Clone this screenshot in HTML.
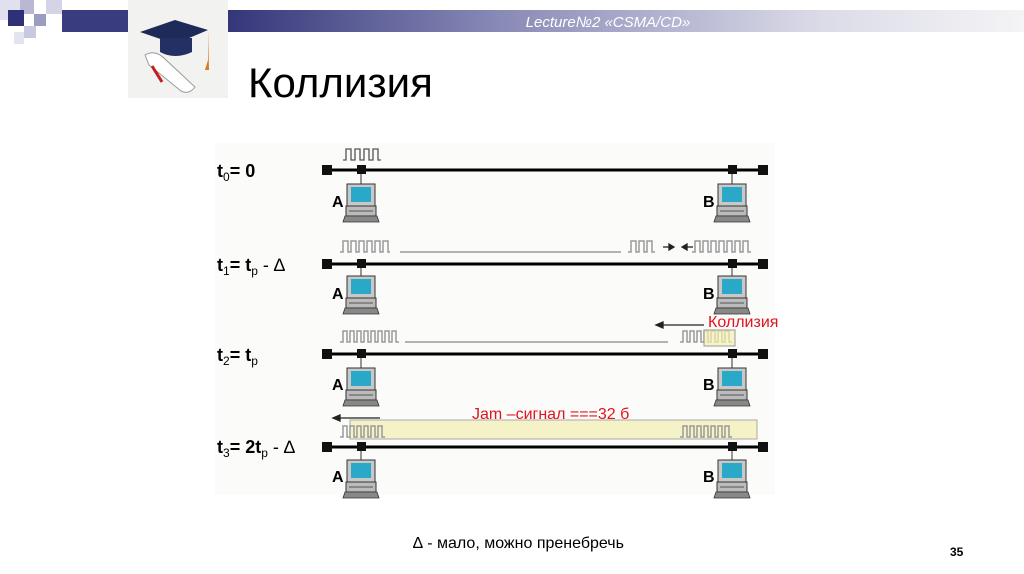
<!DOCTYPE html>
<html><head><meta charset="utf-8"><style>
html,body{margin:0;padding:0;background:#fff;width:1024px;height:574px;overflow:hidden;font-family:"Liberation Sans",sans-serif}
</style></head><body>
<svg width="1024" height="574" viewBox="0 0 1024 574" xmlns="http://www.w3.org/2000/svg" font-family="Liberation Sans, sans-serif">
<defs>
<linearGradient id="hb" x1="0" x2="1" y1="0" y2="0">
<stop offset="0" stop-color="#34367a"/><stop offset="0.35" stop-color="#8a8cb8"/><stop offset="0.75" stop-color="#dcdce8"/><stop offset="1" stop-color="#f4f4f6"/></linearGradient>
<g id="pc">
<rect x="-14" y="0" width="28" height="22" fill="#c8c8c8" stroke="#333" stroke-width="1"/>
<rect x="-10" y="3" width="20" height="15" fill="#2aa8c8"/>
<rect x="-15" y="22" width="30" height="10" fill="#bbb" stroke="#333" stroke-width="1"/>
<line x1="-12" y1="27" x2="12" y2="27" stroke="#555"/>
<path d="M-16 32 h32 l2 6 h-36 z" fill="#888" stroke="#333" stroke-width="0.8"/>
</g>
</defs>
<rect x="215" y="143" width="560" height="352" fill="#fbfbfa"/>
<!-- header decoration -->
<rect x="0" y="0" width="20" height="20" fill="#e0e0ee"/>
<rect x="20" y="0" width="14" height="14" fill="#b8b8d4"/>
<rect x="8" y="10" width="16" height="16" fill="#2e3078"/>
<rect x="34" y="14" width="12" height="12" fill="#9a9cc4"/>
<rect x="24" y="26" width="12" height="12" fill="#c8c8e0"/>
<rect x="46" y="0" width="16" height="14" fill="#d4d4e6"/>
<rect x="14" y="32" width="10" height="12" fill="#e4e4f0"/>
<rect x="62" y="10" width="66" height="22" fill="#3a3c80"/>
<rect x="228" y="10" width="796" height="22" fill="url(#hb)"/>
<text x="608" y="27" font-size="15" font-style="italic" fill="#fff" text-anchor="middle">Lecture№2 «CSMA/CD»</text>
<!-- clipart -->
<rect x="128" y="0" width="100" height="98" fill="#f2f2f0"/>
<path d="M140 32 L175 20 L208 30 L175 44 Z" fill="#1e2a5a"/>
<path d="M160 38 v14 q15 8 32 0 v-14" fill="#233064"/>
<path d="M208 30 v30 l-3 10 l4 0 z" fill="#d87a20"/>
<path d="M145 55 q10 -6 20 4 l30 28 q-6 8 -14 4 l-32 -26 z" fill="#fff" stroke="#999"/>
<path d="M152 66 l10 16" stroke="#c02020" stroke-width="3"/>
<text x="248" y="97" font-size="42" fill="#000">Коллизия</text>
<!-- diagram -->
<g fill="none" stroke="#000">
<g stroke-width="3">
<line x1="328" y1="170" x2="762" y2="170"/>
<line x1="328" y1="264" x2="762" y2="264"/>
<line x1="328" y1="354" x2="762" y2="354"/>
</g>
</g>
<rect x="350" y="420" width="407" height="19" fill="#f6f2c8" stroke="#aaa"/>
<line x1="328" y1="447" x2="762" y2="447" stroke="#000" stroke-width="3"/>
<g fill="#111">
<rect x="322" y="165" width="10" height="10"/><rect x="758" y="165" width="10" height="10"/>
<rect x="357" y="165" width="9" height="9"/><rect x="728" y="165" width="9" height="9"/>
<rect x="322" y="259" width="10" height="10"/><rect x="758" y="259" width="10" height="10"/>
<rect x="357" y="259" width="9" height="9"/><rect x="728" y="259" width="9" height="9"/>
<rect x="322" y="349" width="10" height="10"/><rect x="758" y="349" width="10" height="10"/>
<rect x="357" y="349" width="9" height="9"/><rect x="728" y="349" width="9" height="9"/>
<rect x="322" y="442" width="10" height="10"/><rect x="758" y="442" width="10" height="10"/>
<rect x="357" y="442" width="9" height="9"/><rect x="728" y="442" width="9" height="9"/>
</g>
<g stroke="#333">
<line x1="361" y1="174" x2="361" y2="184"/><line x1="732" y1="174" x2="732" y2="184"/>
<line x1="361" y1="268" x2="361" y2="276"/><line x1="732" y1="268" x2="732" y2="276"/>
<line x1="361" y1="358" x2="361" y2="368"/><line x1="732" y1="358" x2="732" y2="368"/>
<line x1="361" y1="451" x2="361" y2="460"/><line x1="732" y1="451" x2="732" y2="460"/>
</g>
<use href="#pc" x="361" y="184"/><use href="#pc" x="732" y="184"/>
<use href="#pc" x="361" y="276"/><use href="#pc" x="732" y="276"/>
<use href="#pc" x="361" y="368"/><use href="#pc" x="732" y="368"/>
<use href="#pc" x="361" y="460"/><use href="#pc" x="732" y="460"/>
<g font-size="16" font-weight="bold" fill="#000">
<text x="332" y="207">A</text><text x="703" y="207">B</text>
<text x="332" y="299">A</text><text x="703" y="299">B</text>
<text x="332" y="390">A</text><text x="703" y="390">B</text>
<text x="332" y="482">A</text><text x="703" y="482">B</text>
</g>
<g font-size="18" font-weight="bold" fill="#000">
<text x="217" y="177">t<tspan font-size="12" dy="4" font-weight="normal">0</tspan><tspan dy="-4">= 0</tspan></text>
<text x="217" y="271">t<tspan font-size="12" dy="4" font-weight="normal">1</tspan><tspan dy="-4">= t</tspan><tspan font-size="12" dy="4" font-weight="normal">p</tspan><tspan dy="-4" font-weight="normal"> - ∆</tspan></text>
<text x="217" y="361">t<tspan font-size="12" dy="4" font-weight="normal">2</tspan><tspan dy="-4">= t</tspan><tspan font-size="12" dy="4" font-weight="normal">p</tspan></text>
<text x="217" y="453">t<tspan font-size="12" dy="4" font-weight="normal">3</tspan><tspan dy="-4">= 2t</tspan><tspan font-size="12" dy="4" font-weight="normal">p</tspan><tspan dy="-4" font-weight="normal"> - ∆</tspan></text>
</g>
<g fill="none" stroke="#555" stroke-width="1.3">
<path d="M343 160 h3 v-11 h5 v11 h4 v-11 h5 v11 h4 v-11 h5 v11 h4 v-11 h5 v11 h3"/>
</g>
<g fill="none" stroke="#999" stroke-width="1.5">
<path d="M340 252 h3 v-11 h5 v11 h3 v-11 h5 v11 h3 v-11 h5 v11 h3 v-11 h5 v11 h3 v-11 h5 v11 h3 v-11 h5 v11 h2"/>
<line x1="400" y1="252" x2="621" y2="252"/>
<path d="M628 252 h3 v-11 h5 v11 h3 v-11 h5 v11 h3 v-11 h5 v11 h3"/>
<path d="M692 252 h3 v-11 h5 v11 h3 v-11 h5 v11 h3 v-11 h5 v11 h3 v-11 h5 v11 h3 v-11 h5 v11 h3 v-11 h5 v11 h3 v-11 h5 v11 h3"/>
<path d="M340 342 h3 v-11 h4 v11 h3 v-11 h4 v11 h3 v-11 h4 v11 h3 v-11 h4 v11 h3 v-11 h4 v11 h3 v-11 h4 v11 h3 v-11 h4 v11 h3 v-11 h4 v11 h3"/>
<line x1="405" y1="342" x2="668" y2="342"/>
<path d="M680 342 h3 v-11 h4 v11 h3 v-11 h4 v11 h3 v-11 h4 v11 h3 v-11 h4 v11 h3 v-11 h4 v11 h3 v-11 h4 v11 h3 v-11 h4 v11 h3"/>
<path d="M340 437 h3 v-11 h4 v11 h3 v-11 h4 v11 h3 v-11 h4 v11 h3 v-11 h4 v11 h3 v-11 h4 v11 h3 v-11 h4 v11 h3"/>
<path d="M680 437 h3 v-11 h4 v11 h3 v-11 h4 v11 h3 v-11 h4 v11 h3 v-11 h4 v11 h3 v-11 h4 v11 h3 v-11 h4 v11 h3 v-11 h4 v11 h3"/>
</g>
<rect x="704" y="330" width="31" height="16" fill="#f4f0b0" fill-opacity="0.7" stroke="#999"/>
<g stroke="#222" stroke-width="1.3" fill="#222">
<line x1="663" y1="247" x2="670" y2="247"/><path d="M674 247 l-5 -3 v6 z"/>
<line x1="686" y1="247" x2="693" y2="247"/><path d="M682 247 l5 -3 v6 z"/>
<line x1="662" y1="325" x2="704" y2="325"/><path d="M656 325 l7 -3 v6 z"/>
<line x1="340" y1="418" x2="380" y2="418"/><path d="M333 418 l7 -3 v6 z"/>
</g>
<text x="708" y="327" font-size="16" fill="#e0141c">Коллизия</text>
<text x="472" y="419" font-size="16" fill="#e0141c">Jam –сигнал ===32 б</text>
<text x="413" y="548" font-size="16" fill="#000">∆ - мало, можно пренебречь</text>
<text x="950" y="556" font-size="12" font-weight="bold" fill="#000">35</text>
</svg>
</body></html>
